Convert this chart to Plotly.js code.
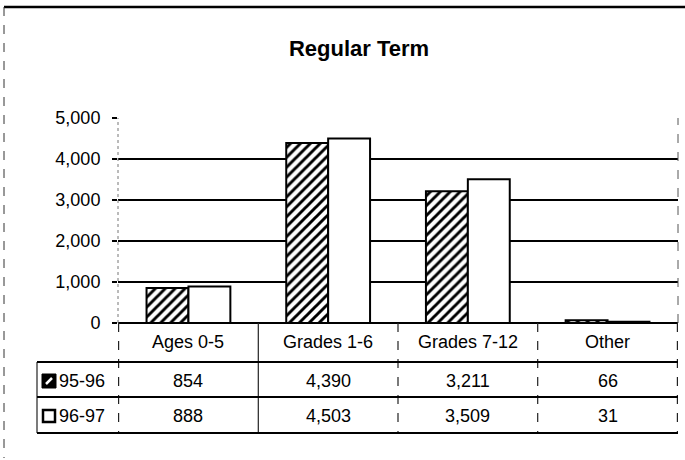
<!DOCTYPE html>
<html>
<head>
<meta charset="utf-8">
<script src="https://cdn.plot.ly/plotly-3.0.1.min.js"></script>
<style>html,body{margin:0;padding:0;background:#fff;}#chart{width:685px;height:460px;}</style>
</head>
<body>
<div id="chart"></div>
<script>
// ---- data ----
const categories = ["Ages 0-5", "Grades 1-6", "Grades 7-12", "Other"];
const seriesNames = ["95-96", "96-97"];
const values9596 = [854, 4390, 3211, 66];
const values9697 = [888, 4503, 3509, 31];
const yTicks = [0, 1000, 2000, 3000, 4000, 5000];
const chartTitle = "Regular Term";

// ---- geometry helpers (pixel -> paper) ----
const W = 685, H = 460;
const L = 118, R = 7, T = 118, B = 137;
const pw = W - L - R, ph = H - T - B;
const px = x => (x - L) / pw;
const py = y => (H - B - y) / ph;

const FONT = "Liberation Sans, Arial, sans-serif";
const fmt = v => v.toLocaleString("en-US");

const traces = [
  {
    type: "bar", x: categories, y: values9596, name: seriesNames[0],
    marker: {
      color: "white",
      pattern: {shape: "/", fgcolor: "black", bgcolor: "white", size: 7, solidity: 0.42},
      line: {color: "black", width: 2}
    },
    hoverinfo: "skip"
  },
  {
    type: "bar", x: categories, y: values9697, name: seriesNames[1],
    marker: {color: "white", line: {color: "black", width: 2}},
    hoverinfo: "skip"
  }
];

const shapes = [];
const annotations = [];

// outer frame: top line and left dashed border
shapes.push({type: "line", xref: "paper", yref: "paper", x0: px(4), x1: px(685), y0: py(7), y1: py(7), line: {color: "black", width: 2.5}});
shapes.push({type: "line", xref: "paper", yref: "paper", x0: px(4), x1: px(4), y0: py(7), y1: py(458), line: {color: "#333", width: 1, dash: "dash"}});

// plot area side borders (dotted)
shapes.push({type: "line", xref: "paper", yref: "paper", x0: 0, x1: 0, y0: 0, y1: 1, line: {color: "#777", width: 1, dash: "dot"}});
shapes.push({type: "line", xref: "paper", yref: "paper", x0: 1, x1: 1, y0: 0, y1: 1, line: {color: "#555", width: 1, dash: "dash"}});

// data table geometry (pixels)
const headerY = 342, line1 = 362, row1Y = 381, line2 = 397, row2Y = 416, line3 = 433;
const tableLeft = 37;

// vertical separators at category boundaries
for (let i = 0; i <= categories.length; i++) {
  shapes.push({type: "line", xref: "x", yref: "paper", x0: i - 0.5, x1: i - 0.5,
    y0: py(323), y1: py(line3),
    line: {color: "#222", width: 1.2, dash: i === 1 ? "solid" : "dash"}});
}
// legend column left edge
shapes.push({type: "line", xref: "paper", yref: "paper", x0: px(tableLeft), x1: px(tableLeft), y0: py(line1), y1: py(line3), line: {color: "#222", width: 1.2}});
// horizontal table lines
[line1, line2, line3].forEach(y => {
  shapes.push({type: "line", xref: "paper", yref: "paper", x0: px(tableLeft), x1: 1, y0: py(y), y1: py(y), line: {color: "black", width: 2}});
});

// category header labels
categories.forEach(c => {
  annotations.push({xref: "x", yref: "paper", x: c, y: py(headerY), text: c, showarrow: false,
    font: {family: FONT, size: 18, color: "black"}, xanchor: "center", yanchor: "middle"});
});

// table rows
const rows = [{name: seriesNames[0], vals: values9596, y: row1Y}, {name: seriesNames[1], vals: values9697, y: row2Y}];
rows.forEach((r, k) => {
  r.vals.forEach((v, i) => {
    annotations.push({xref: "x", yref: "paper", x: categories[i], y: py(r.y), text: fmt(v), showarrow: false,
      font: {family: FONT, size: 18, color: "black"}, xanchor: "center", yanchor: "middle"});
  });
  annotations.push({xref: "paper", yref: "paper", x: px(57), y: py(r.y), text: r.name, showarrow: false,
    font: {family: FONT, size: 18, color: "black"}, xanchor: "left", yanchor: "middle"});
  // legend key
  const k0 = 42, k1 = 56, ky0 = r.y - 7, ky1 = r.y + 7;
  if (k === 0) {
    shapes.push({type: "rect", xref: "paper", yref: "paper", x0: px(k0), x1: px(k1), y0: py(ky1), y1: py(ky0), fillcolor: "black", line: {color: "black", width: 1}});
    shapes.push({type: "line", xref: "paper", yref: "paper", x0: px(k0 + 4), x1: px(k1 - 4), y0: py(ky1 - 4), y1: py(ky0 + 4), line: {color: "white", width: 2.5}});
  } else {
    shapes.push({type: "rect", xref: "paper", yref: "paper", x0: px(k0 + 1), x1: px(k1 - 1), y0: py(ky1 - 1), y1: py(ky0 + 1), fillcolor: "white", line: {color: "black", width: 2.5}});
  }
});

const layout = {
  width: W, height: H,
  margin: {l: L, r: R, t: T, b: B},
  paper_bgcolor: "white", plot_bgcolor: "white",
  showlegend: false,
  barmode: "group", bargap: 0.4, bargroupgap: 0,
  title: {text: "<b>" + chartTitle + "</b>", font: {family: FONT, size: 22, color: "black"},
    x: px(359), xref: "paper", xanchor: "center", y: 1 - 48 / H, yref: "container", yanchor: "middle"},
  xaxis: {showticklabels: false, showgrid: false, zeroline: false, showline: false, ticks: "", fixedrange: true},
  yaxis: {range: [0, 5000], tickvals: yTicks, tickformat: ",d", showgrid: true, gridcolor: "black", gridwidth: 1.5,
    zeroline: true, zerolinecolor: "black", zerolinewidth: 2, showline: false,
    ticks: "outside", ticklen: 5, tickwidth: 1.5, tickcolor: "black", ticklabelstandoff: 8,
    tickfont: {family: FONT, size: 18, color: "black"}, fixedrange: true},
  shapes: shapes,
  annotations: annotations
};

Plotly.newPlot("chart", traces, layout, {staticPlot: true, displayModeBar: false});
</script>
</body>
</html>
